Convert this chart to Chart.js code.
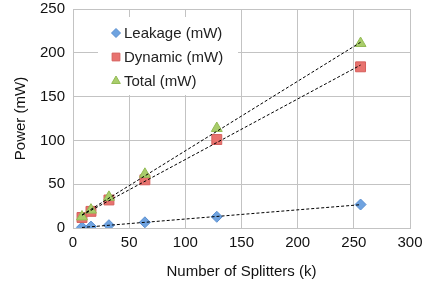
<!DOCTYPE html>
<html>
<head>
<meta charset="utf-8">
<script src="https://cdn.jsdelivr.net/npm/chart.js@4/dist/chart.umd.min.js"></script>
<style>
  html, body { margin: 0; padding: 0; background: #fff; }
  #wrap { width: 435px; height: 284px; position: relative; }
</style>
</head>
<body>
<div id="wrap"><canvas id="powerChart"></canvas></div>
<script>
// Data
const splitters = [8, 16, 32, 64, 128, 256];
const leakage = [0.8, 1.6, 3.2, 6.5, 12.8, 26.8];
const dynamic = [12, 19, 32, 55, 101, 184];
const total = [12.8, 20.6, 35.2, 61.5, 113.8, 210.8];

// Dashed trend lines (end points)
const trendX = [8, 256];
const leakageTrend = [0.6, 26.6];
const dynamicTrend = [14.6, 186];
const totalTrend = [15, 212];

const seriesLabels = ["Leakage (mW)", "Dynamic (mW)", "Total (mW)"];
const xTicks = [0, 50, 100, 150, 200, 250, 300];
const yTicks = [0, 50, 100, 150, 200, 250];

const FONT = "'Liberation Sans', Arial, sans-serif";
const GRID = "#c3c3c3";

const toPoints = (xs, ys) => xs.map((x, i) => ({ x: x, y: ys[i] }));

const markerStyles = [
    { pointStyle: "rectRot", radius: 5.5, fill: "#6fa3e0", stroke: "#5a8fd0" },
    { pointStyle: "rect", radius: 7, fill: "#e8736f", stroke: "#d65f5c" },
    { pointStyle: "triangle", radius: 6.3, fill: "#a9cd6b", stroke: "#93bb55" },
];

const markerSets = [leakage, dynamic, total].map((ys, i) => ({
    label: seriesLabels[i],
    data: toPoints(splitters, ys),
    showLine: false,
    pointStyle: markerStyles[i].pointStyle,
    pointRadius: markerStyles[i].radius,
    pointHoverRadius: markerStyles[i].radius,
    pointBackgroundColor: markerStyles[i].fill,
    pointBorderColor: markerStyles[i].stroke,
    pointBorderWidth: 1,
    order: 10 - i,
}));

const trendSets = [leakageTrend, dynamicTrend, totalTrend].map((ys) => ({
    label: "",
    data: toPoints(trendX, ys),
    showLine: true,
    borderColor: "#000",
    borderWidth: 1,
    borderDash: [3, 2],
    pointRadius: 0,
    fill: false,
    order: 0,
}));

// Legend drawn inside the plot area, over the grid
const insideLegend = {
    id: "insideLegend",
    beforeDatasetsDraw(chart) {
        const ctx = chart.ctx;
        ctx.save();
        ctx.fillStyle = "#fff";
        ctx.fillRect(98, 17, 140, 78);
        const rows = [33, 57, 81];
        const sizes = [4.5, 5.5, 5];
        ctx.font = "15px " + FONT;
        ctx.textBaseline = "middle";
        seriesLabels.forEach((label, i) => {
            ctx.fillStyle = markerStyles[i].fill;
            ctx.strokeStyle = markerStyles[i].stroke;
            ctx.lineWidth = 1;
            Chart.helpers.drawPoint(ctx, {
                pointStyle: markerStyles[i].pointStyle,
                radius: sizes[i],
                borderWidth: 1,
            }, 116, rows[i]);
            ctx.fillStyle = "#222";
            ctx.fillText(label, 124, rows[i] + 1);
        });
        ctx.restore();
    },
};

new Chart(document.getElementById("powerChart"), {
    type: "scatter",
    data: { datasets: [...trendSets, ...markerSets] },
    options: {
        responsive: true,
        maintainAspectRatio: false,
        animation: false,
        layout: { padding: { left: 0, right: 25, top: 9, bottom: 0 } },
        plugins: {
            legend: { display: false },
            tooltip: { enabled: false },
        },
        scales: {
            x: {
                type: "linear",
                min: 0,
                max: 300,
                afterBuildTicks: (scale) => { scale.ticks = xTicks.map((v) => ({ value: v })); },
                afterFit: (scale) => { scale.height = 56; scale.paddingLeft = 0; scale.paddingRight = 0; },
                ticks: { color: "#111", font: { size: 15, family: FONT }, padding: 6, maxRotation: 0 },
                grid: { color: GRID, lineWidth: 1, drawTicks: false },
                border: { color: GRID },
                title: {
                    display: true,
                    text: "Number of Splitters (k)",
                    color: "#111",
                    font: { size: 15, family: FONT },
                    padding: { top: 2, bottom: 3 },
                },
            },
            y: {
                type: "linear",
                min: 0,
                max: 250,
                afterBuildTicks: (scale) => { scale.ticks = yTicks.map((v) => ({ value: v })); },
                afterFit: (scale) => { scale.width = 73; scale.paddingTop = 0; scale.paddingBottom = 0; },
                ticks: { color: "#111", font: { size: 15, family: FONT }, padding: 8 },
                grid: { color: GRID, lineWidth: 1, drawTicks: false },
                border: { color: GRID },
                title: {
                    display: true,
                    text: "Power (mW)",
                    color: "#111",
                    font: { size: 15, family: FONT },
                    padding: { top: 12, bottom: 0 },
                },
            },
        },
    },
    plugins: [insideLegend],
});
</script>
</body>
</html>
